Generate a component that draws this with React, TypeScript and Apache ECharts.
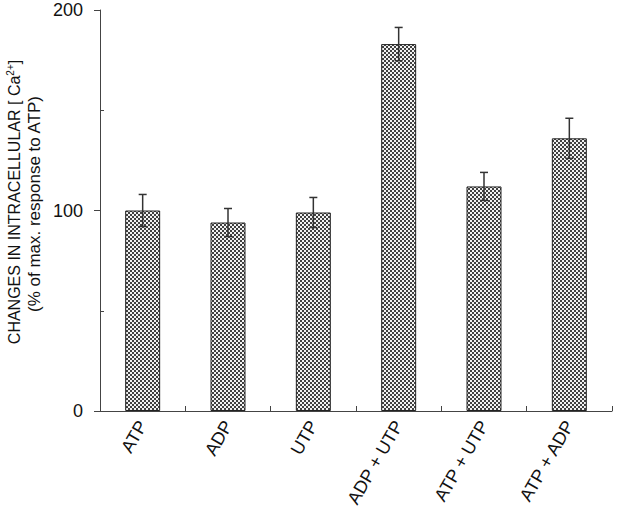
import React, { useEffect, useRef } from "react";
import * as echarts from "echarts";

const categories = ["ATP", "ADP", "UTP", "ADP + UTP", "ATP + UTP", "ATP + ADP"];
const means = [100, 94, 99, 183, 112, 136];
const errors = [8, 7, 7.5, 8.3, 7, 10];
const yTicks = [0, 100, 200];
const yMinorTicks = [50, 150];
const yTitleLine1 = "{a|CHANGES IN INTRACELLULAR [ Ca}{sup|2+}{a|]}";
const yTitleLine2 = "(% of max. response to ATP)";

function makePattern(): HTMLCanvasElement {
  const c = document.createElement("canvas");
  c.width = 4;
  c.height = 4;
  const ctx = c.getContext("2d")!;
  ctx.fillStyle = "#f2f2f2";
  ctx.fillRect(0, 0, 4, 4);
  ctx.fillStyle = "#404040";
  ctx.fillRect(0, 0, 2, 2);
  ctx.fillRect(2, 2, 2, 2);
  return c;
}

export default function App() {
  const ref = useRef<HTMLDivElement>(null);
  useEffect(() => {
    if (!ref.current) return;
    const chart = echarts.init(ref.current, undefined, { renderer: "svg" });
    const pattern: any = { image: makePattern(), repeat: "repeat", imageWidth: 4, imageHeight: 4 };
    const axisColor = "#444";
    const font = "Liberation Sans, Arial, sans-serif";
    chart.setOption({
      animation: false,
      backgroundColor: "#fff",
      grid: {
        left: 100,
        right: 28,
        top: 10,
        bottom: 98,
        containLabel: false,
        outerBoundsMode: "none",
      },
      graphic: [
        {
          type: "text",
          x: 14,
          y: 202,
          rotation: Math.PI / 2,
          style: {
            text: yTitleLine1,
            align: "center",
            verticalAlign: "middle",
            fill: "#111",
            rich: {
              a: { fontSize: 16, fill: "#111", fontFamily: font, lineHeight: 18 },
              sup: { fontSize: 10, fill: "#111", fontFamily: font, verticalAlign: "top", lineHeight: 18, padding: [0, 0, 8, 0] },
            },
          },
        },
        {
          type: "text",
          x: 34,
          y: 204,
          rotation: Math.PI / 2,
          style: {
            text: yTitleLine2,
            align: "center",
            verticalAlign: "middle",
            fill: "#111",
            fontSize: 17,
            fontFamily: font,
          },
        },
      ],
      xAxis: {
        type: "category",
        data: categories,
        axisLine: { show: true, lineStyle: { color: axisColor, width: 1 } },
        axisTick: { show: true, inside: true, length: 5, lineStyle: { color: axisColor } },
        axisLabel: {
          interval: 0,
          rotate: 60,
          margin: 11,
          fontSize: 18,
          lineHeight: 16,
          color: "#111",
          fontFamily: font,
        },
        splitLine: { show: false },
      },
      yAxis: [
        {
          type: "value",
          min: yTicks[0],
          max: yTicks[yTicks.length - 1],
          interval: 100,
          axisLine: { show: true, lineStyle: { color: axisColor, width: 1 } },
          axisTick: { show: true, inside: false, length: 6, lineStyle: { color: axisColor } },
          axisLabel: { fontSize: 18, lineHeight: 14, color: "#111", margin: 17, fontFamily: font },
          splitLine: { show: false },
        },
        {
          type: "value",
          min: yTicks[0],
          max: yTicks[yTicks.length - 1],
          position: "left",
          axisLine: { show: false },
          axisLabel: { show: false },
          splitLine: { show: false },
          axisTick: {
            show: true,
            inside: true,
            length: 4,
            customValues: yMinorTicks,
            lineStyle: { color: axisColor },
          },
        },
      ],
      series: [
        {
          type: "bar",
          data: means,
          barWidth: "41%",
          itemStyle: { color: pattern, borderColor: "#222", borderWidth: 1 },
        },
        {
          type: "custom",
          data: means.map((m, i) => [i, m - errors[i], m + errors[i]]),
          renderItem: (params: any, api: any) => {
            const x = api.value(0);
            const lo = api.coord([x, api.value(1)]);
            const hi = api.coord([x, api.value(2)]);
            const hw = 4;
            const style = { stroke: "#333", lineWidth: 1.5 };
            return {
              type: "group",
              children: [
                { type: "line", shape: { x1: hi[0], y1: hi[1], x2: lo[0], y2: lo[1] }, style },
                { type: "line", shape: { x1: hi[0] - hw, y1: hi[1], x2: hi[0] + hw, y2: hi[1] }, style },
                { type: "line", shape: { x1: lo[0] - hw, y1: lo[1], x2: lo[0] + hw, y2: lo[1] }, style },
              ],
            };
          },
          z: 10,
        },
      ],
    });
    return () => chart.dispose();
  }, []);
  return (
    <div
      ref={ref}
      style={{ position: "fixed", left: 0, top: 0, width: 640, height: 509, background: "#fff" }}
    />
  );
}
